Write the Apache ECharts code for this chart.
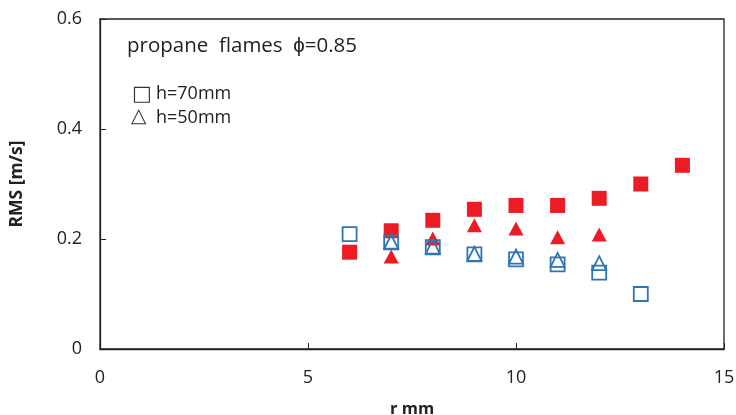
<!DOCTYPE html>
<html><head><meta charset="utf-8">
<script src="https://cdn.jsdelivr.net/npm/echarts@6/dist/echarts.min.js"></script>
<style>html,body{margin:0;padding:0;background:#fff}#c{width:736px;height:415px}</style>
</head><body><div id="c"></div>
<script>
const xTicks = [0, 5, 10, 15];
const yTicks = [0, 0.2, 0.4, 0.6];
const r70 = [6, 7, 8, 9, 10, 11, 12, 13, 14];
const redSquares = [0.176, 0.215, 0.234, 0.254, 0.261, 0.261, 0.274, 0.300, 0.334];
const r50 = [7, 8, 9, 10, 11, 12];
const redTriangles = [0.168, 0.201, 0.225, 0.219, 0.203, 0.208];
const rBlue70 = [6, 7, 8, 9, 10, 11, 12, 13];
const blueSquares = [0.209, 0.194, 0.185, 0.172, 0.163, 0.154, 0.139, 0.100];
const rBlue50 = [7, 8, 9, 10, 11, 12];
const blueTriangles = [0.195, 0.186, 0.173, 0.168, 0.162, 0.156];

const pair = (xs, ys) => xs.map((x, i) => [x, ys[i]]);
const FONT = '"Open Sans", "Liberation Sans", sans-serif';
const chart = echarts.init(document.getElementById('c'));
chart.setOption({
  animation: false,
  textStyle: {fontFamily: FONT},
  grid: {left: 100, top: 19, width: 624, height: 330, outerBoundsMode: 'none', containLabel: false,
    show: true, borderColor: '#222', borderWidth: 1.3, backgroundColor: 'transparent'},
  xAxis: {
    type: 'value', min: 0, max: 15, interval: 5,
    name: 'r mm', nameLocation: 'middle', nameGap: 52,
    nameTextStyle: {fontFamily: FONT, fontWeight: 'bold', fontSize: 16.5, color: '#222'},
    axisLine: {show: true, lineStyle: {color: '#222', width: 1.3}},
    axisTick: {show: true, inside: true, length: 6, lineStyle: {color: '#222'}},
    axisLabel: {fontSize: 18, color: '#222', margin: 20, fontFamily: FONT},
    splitLine: {show: false}
  },
  yAxis: {
    type: 'value', min: 0, max: 0.6, interval: 0.2,
    name: 'RMS [m/s]', nameLocation: 'middle', nameGap: 74, nameRotate: 90,
    nameTextStyle: {fontFamily: FONT, fontWeight: 'bold', fontSize: 17.5, color: '#222'},
    axisLine: {show: true, lineStyle: {color: '#222', width: 1.3}},
    axisTick: {show: true, inside: true, length: 6, lineStyle: {color: '#222'}},
    axisLabel: {fontSize: 18, color: '#222', margin: 18, fontFamily: FONT,
      formatter: v => (Math.round(v * 10) / 10).toString()},
    splitLine: {show: false}
  },
  series: [
    {type: 'scatter', name: 'red sq', data: pair(r70, redSquares), symbol: 'rect', symbolSize: 15,
      itemStyle: {color: '#ed1c24', opacity: 1}},
    {type: 'scatter', name: 'red tri', data: pair(r50, redTriangles), symbol: 'triangle', symbolSize: [15, 14],
      itemStyle: {color: '#ed1c24', opacity: 1}},
    {type: 'scatter', name: 'blue sq', data: pair(rBlue70, blueSquares), symbol: 'rect', symbolSize: 14,
      itemStyle: {color: 'rgba(255,255,255,0)', borderColor: '#2e75b6', borderWidth: 1.8, opacity: 1}},
    {type: 'scatter', name: 'blue tri', data: pair(rBlue50, blueTriangles), symbol: 'triangle', symbolSize: [14, 14],
      itemStyle: {color: 'rgba(255,255,255,0)', borderColor: '#2e75b6', borderWidth: 1.8, opacity: 1}}
  ],
  graphic: [
    {type: 'text', left: 127, top: 36, style: {text: 'propane  flames  ϕ=0.85', fontSize: 20.5, fill: '#222', fontFamily: FONT}},
    {type: 'text', left: 132, top: 84, style: {text: '□', fontSize: 21, fill: '#333', fontFamily: '"DejaVu Sans", sans-serif'}},
    {type: 'text', left: 156, top: 85, style: {text: 'h=70mm', fontSize: 18, fill: '#222', fontFamily: FONT}},
    {type: 'text', left: 131, top: 107, style: {text: '△', fontSize: 20, fill: '#333', fontFamily: '"DejaVu Sans", sans-serif'}},
    {type: 'text', left: 156, top: 109, style: {text: 'h=50mm', fontSize: 18, fill: '#222', fontFamily: FONT}}
  ]
});
</script></body></html>
